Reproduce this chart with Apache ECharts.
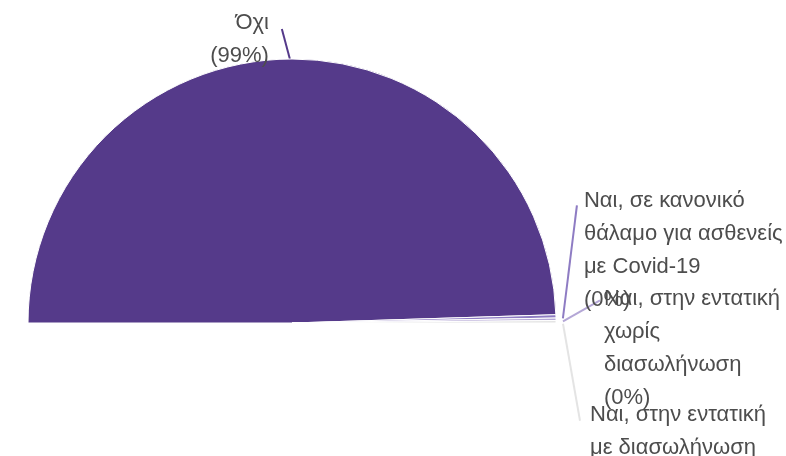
<!DOCTYPE html>
<html>
<head>
<meta charset="utf-8">
<script src="https://cdn.jsdelivr.net/npm/echarts@6/dist/echarts.min.js"></script>
<style>
html,body{margin:0;padding:0;background:#fff;}
#c{width:786px;height:456px;}
</style>
</head>
<body>
<div id="c"></div>
<script>
const categories = [
  'Όχι',
  'Ναι, σε κανονικό\nθάλαμο για ασθενείς\nμε Covid-19',
  'Ναι, στην εντατική\nχωρίς\nδιασωλήνωση',
  'Ναι, στην εντατική\nμε διασωλήνωση'
];
const values = [99.0, 0.4, 0.3, 0.3];
const colors = ['#553a8a', '#8e7cc3', '#b4a7d6', '#e4e4e4'];

// label-line start shift, end offsets relative to the start, text offsets relative to the end
const startShift = [[2, 0], [7, 2], [7, 2], [7, 2]];
const lineOffsets = [[-8, -30], [14, -113], [37, -21], [17, 97]];
const textOffsets = [[-13, 10], [7, -21], [4, -18], [10, -22]];
const textAligns = [['right', 'middle'], ['left', 'top'], ['left', 'top'], ['left', 'top']];

const chart = echarts.init(document.getElementById('c'), null, {renderer: 'canvas'});
chart.setOption({
  animation: false,
  backgroundColor: '#ffffff',
  series: [{
    type: 'pie',
    center: [292, 323],
    radius: 264,
    startAngle: 180,
    endAngle: 0,
    clockwise: true,
    avoidLabelOverlap: false,
    data: categories.map((name, i) => ({
      name: name,
      value: values[i],
      itemStyle: {color: colors[i]}
    })),
    itemStyle: {borderColor: '#ffffff', borderWidth: 1},
    label: {
      show: true,
      position: 'outside',
      formatter: p => p.name + '\n(' + Math.round(p.percent) + '%)',
      fontFamily: 'Liberation Sans, Arial, sans-serif',
      fontSize: 22,
      lineHeight: 33,
      color: '#4d4d4d'
    },
    labelLine: {
      show: true,
      length: 20,
      length2: 0,
      lineStyle: {width: 2}
    },
    labelLayout: function (params) {
      const i = params.dataIndex;
      const pts = params.labelLinePoints;
      if (!pts) return {};
      const s = [pts[0][0] + startShift[i][0], pts[0][1] + startShift[i][1]];
      const e = [s[0] + lineOffsets[i][0], s[1] + lineOffsets[i][1]];
      return {
        x: e[0] + textOffsets[i][0],
        y: e[1] + textOffsets[i][1],
        align: textAligns[i][0],
        verticalAlign: textAligns[i][1],
        labelLinePoints: [s, e, e]
      };
    }
  }]
});
</script>
</body>
</html>
